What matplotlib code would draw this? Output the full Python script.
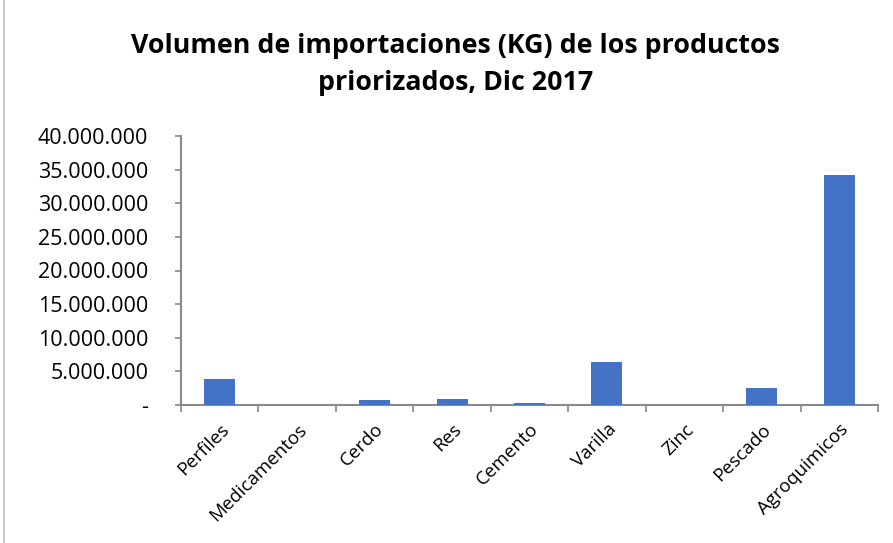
import matplotlib
matplotlib.use("Agg")
import matplotlib.pyplot as plt
from matplotlib.ticker import FuncFormatter, MultipleLocator
from matplotlib.lines import Line2D

categories = ["Perfiles", "Medicamentos", "Cerdo", "Res", "Cemento",
              "Varilla", "Zinc", "Pescado", "Agroquimicos"]
volumes_kg = [3870000, 0, 740000, 880000, 250000, 6350000, 0, 2480000, 34200000]

title = "Volumen de importaciones (KG) de los productos\npriorizados, Dic 2017"

plt.rcParams['font.family'] = ['Open Sans', 'DejaVu Sans']

fig = plt.figure(figsize=(8.93, 5.43), dpi=100)
ax = fig.add_axes([181/893, 1-405/543, 697/893, 269/543])

x = list(range(len(categories)))
ax.bar(x, volumes_kg, width=0.4, color="#4472C4", zorder=3)

ax.set_xlim(-0.5, len(categories) - 0.5)
ax.set_ylim(0, 40000000)
ax.yaxis.set_major_locator(MultipleLocator(5000000))

def fmt(v, pos):
    if v == 0:
        return "-"
    return f"{int(v):,}".replace(",", ".")
ax.yaxis.set_major_formatter(FuncFormatter(fmt))

ax.set_xticks([i + 0.5 for i in range(-1, len(categories))], minor=False)
ax.set_xticklabels([])
ax.set_xticks(x, minor=True)
ax.set_xticklabels(categories, minor=True, rotation=45, ha="right",
                   rotation_mode="anchor", fontsize=13.5, color="#000000")
ax.tick_params(axis="x", which="minor", length=0, pad=11)
ax.tick_params(axis="x", which="major", length=5, width=1.2, color="#898989")
ax.tick_params(axis="y", length=4.5, width=1.2, color="#898989", labelsize=15.5,
               pad=19, labelcolor="#000000")

for s in ["top", "right"]:
    ax.spines[s].set_visible(False)
for s in ["left", "bottom"]:
    ax.spines[s].set_color("#898989")
    ax.spines[s].set_linewidth(1.5)

fig.text(0.51, 0.94, title, ha="center", va="top", fontsize=19.3,
         fontweight="bold", linespacing=1.55)

fig.add_artist(Line2D([4/893, 4/893], [0, 1], transform=fig.transFigure,
                      color="#BFBFBF", linewidth=1.2))

fig.savefig("out.png", dpi=100)
